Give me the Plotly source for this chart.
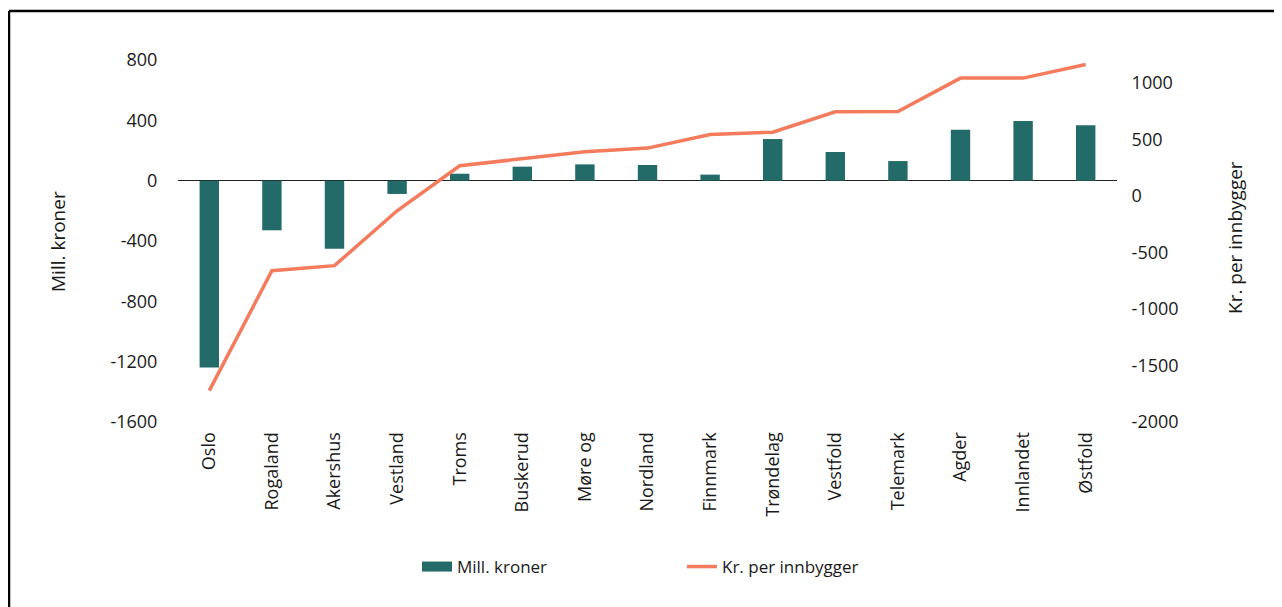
import plotly.graph_objects as go

# data
fylker = ["Oslo", "Rogaland", "Akershus", "Vestland", "Troms", "Buskerud", "Møre og",
          "Nordland", "Finnmark", "Trøndelag", "Vestfold", "Telemark", "Agder",
          "Innlandet", "Østfold"]
mill_kroner = [-1238, -329, -451, -88, 46, 93, 108, 104, 40, 276, 190, 130, 338, 396, 367]
kr_per_innbygger = [-1723, -663, -618, -133, 265, 324, 389, 421, 542, 562, 742, 745,
                    1040, 1040, 1160]

left_ticks = [800, 400, 0, -400, -800, -1200, -1600]
right_ticks = [1000, 500, 0, -500, -1000, -1500, -2000]

FONT = "Open Sans"
BAR_COLOR = "#236B69"
LINE_COLOR = "#F47B5C"

# the page puts the figure 8px in from the top-left corner
OFF = 8
W, H = 1282 - OFF, 607 - OFF
# plot area in page pixels
L, R, T, B = 178, 1117, 60, 422


def px(x):
    return (x - L) / (R - L)


def py(y):
    return (B - y) / (B - T)


fig = go.Figure()

fig.add_trace(go.Bar(
    x=fylker, y=mill_kroner, name="Mill. kroner",
    marker=dict(color=BAR_COLOR, line=dict(width=0)),
    width=0.31, yaxis="y", showlegend=False,
))

# legend entry for the bars drawn as a wide block
fig.add_trace(go.Scatter(
    x=[None], y=[None], name="Mill. kroner", mode="lines",
    line=dict(color=BAR_COLOR, width=12), yaxis="y",
))

fig.add_trace(go.Scatter(
    x=fylker, y=kr_per_innbygger, name="Kr. per innbygger",
    mode="lines", line=dict(color=LINE_COLOR, width=3.5),
    yaxis="y2",
))

fig.update_layout(
    width=W, height=H,
    margin=dict(l=L - OFF, r=1282 - R, t=T - OFF, b=607 - B),
    paper_bgcolor="white", plot_bgcolor="white",
    font=dict(family=FONT, size=18, color="#1a1a1a"),
    showlegend=True,
    legend=dict(
        orientation="h", x=px(417), y=py(567), xanchor="left", yanchor="middle",
        font=dict(size=17), entrywidth=220, entrywidthmode="pixels",
        bgcolor="rgba(0,0,0,0)", traceorder="normal",
    ),
    xaxis=dict(
        type="category", tickangle=-90, showgrid=False, showline=False,
        ticks="outside", ticklen=2, tickcolor="rgba(0,0,0,0)",
        tickfont=dict(size=18),
    ),
    yaxis=dict(
        range=[-1600, 800], tickvals=left_ticks, ticktext=[str(v) for v in left_ticks],
        showgrid=False, showline=False,
        zeroline=True, zerolinecolor="#222222", zerolinewidth=1.2,
        ticks="outside", ticklen=16, tickcolor="rgba(0,0,0,0)",
        tickfont=dict(size=18),
    ),
    yaxis2=dict(
        range=[-2000, 1200], tickvals=right_ticks, ticktext=[str(v) for v in right_ticks],
        overlaying="y", side="right",
        showgrid=False, showline=False, zeroline=False,
        ticks="outside", ticklen=10, tickcolor="rgba(0,0,0,0)",
        tickfont=dict(size=18),
    ),
    annotations=[
        dict(text="Mill. kroner", textangle=-90, xref="paper", yref="paper",
             x=px(58), y=py(242), showarrow=False, font=dict(size=19),
             xanchor="center", yanchor="middle"),
        dict(text="Kr. per innbygger", textangle=-90, xref="paper", yref="paper",
             x=px(1235), y=py(238), showarrow=False, font=dict(size=19),
             xanchor="center", yanchor="middle"),
    ],
    shapes=[
        # frame around the figure (top and left edges visible)
        dict(type="line", xref="paper", yref="paper", x0=px(9), x1=px(1300),
             y0=py(11), y1=py(11), line=dict(color="black", width=2.5)),
        dict(type="line", xref="paper", yref="paper", x0=px(9), x1=px(9),
             y0=py(11), y1=py(640), line=dict(color="black", width=2.5)),
    ],
)

fig.write_html("out.html")
